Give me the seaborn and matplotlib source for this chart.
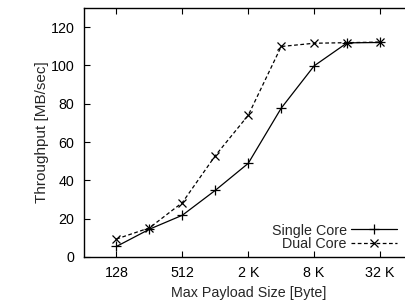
import matplotlib
matplotlib.use("Agg")
import matplotlib.pyplot as plt
import seaborn as sns
import pandas as pd

payload = [128, 256, 512, 1024, 2048, 4096, 8192, 16384, 32768]
single_core = [5.5, 14.5, 21.8, 34.8, 48.9, 77.7, 99.8, 111.8, 112.0]
dual_core = [9.4, 15.2, 28.4, 52.9, 74.0, 109.9, 111.6, 111.9, 112.2]
xtick_vals = [128, 512, 2048, 8192, 32768]
xtick_labels = ["128", "512", "2 K", "8 K", "32 K"]
ytick_vals = [0, 20, 40, 60, 80, 100, 120]

sns.set_theme(style="ticks")
plt.rcParams['font.family'] = ['Liberation Sans', 'DejaVu Sans']

fig = plt.figure(figsize=(4.05, 3.03), dpi=100)
ax = fig.add_axes([83.5 / 405, 1 - 257 / 303, (413 - 83.5) / 405, (257 - 8) / 303])

df_s = pd.DataFrame({"x": payload, "y": single_core})
df_d = pd.DataFrame({"x": payload, "y": dual_core})
sns.lineplot(data=df_s, x="x", y="y", ax=ax, color="black", lw=0.9,
             marker="+", markersize=6.5, markeredgewidth=0.9,
             markeredgecolor="black", label="Single Core")
sns.lineplot(data=df_d, x="x", y="y", ax=ax, color="black", lw=0.9,
             linestyle=(0, (3, 2)), marker="x", markersize=5.5,
             markeredgewidth=0.9, markeredgecolor="black", label="Dual Core")

ax.set_xscale("log", base=2)
ax.set_xlim(64, 65536)
ax.set_ylim(0, 130)
ax.set_xticks(xtick_vals)
ax.set_xticklabels(xtick_labels)
ax.minorticks_off()
ax.set_yticks(ytick_vals)
ax.tick_params(direction="in", length=4, width=0.8, labelsize=10.3,
               top=True, right=True, colors="black", pad=6.5)
for s in ax.spines.values():
    s.set_linewidth(1.0)
    s.set_color("black")
ax.spines["right"].set_visible(False)
ax.set_xlabel("Max Payload Size [Byte]", fontsize=10.3, labelpad=4.5)
ax.set_ylabel("Throughput [MB/sec]", fontsize=11, labelpad=1.5)

leg = ax.legend(loc="lower right", bbox_to_anchor=(397 / 405, 1 - 251.5 / 303),
                bbox_transform=fig.transFigure, frameon=False,
                markerfirst=False, fontsize=10.3, handlelength=3.2,
                handletextpad=0.3, labelspacing=0.0, borderaxespad=0,
                borderpad=0)

fig.savefig("out.png", dpi=100)
